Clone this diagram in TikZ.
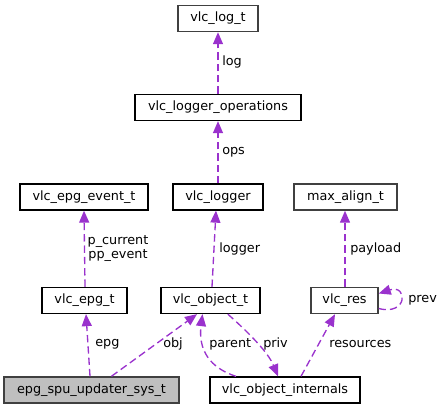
\documentclass[tikz,border=0pt]{standalone}
\usepackage{fontspec}
\setmainfont{DejaVu Sans}
\usetikzlibrary{arrows.meta,calc}
\definecolor{edgec}{HTML}{9A32CD}
\definecolor{bord}{HTML}{404040}
\begin{document}
\begin{tikzpicture}[x=0.75pt,y=-0.75pt,
  box/.style={draw=black,fill=white,line width=1pt,inner sep=0pt,minimum height=19.5pt,font=\fontsize{9.6}{11}\selectfont},
  gbox/.style={box,draw=bord,line width=1.1pt},
  mainbox/.style={box,draw=bord,line width=1.1pt,fill=black!25},
  rel/.style={draw=edgec,line width=1pt,dash pattern=on 5.5pt off 3pt,-{Triangle[length=9pt,width=7.5pt]}},
  lbl/.style={anchor=west,inner sep=0pt,font=\fontsize{9.6}{11}\selectfont}]
\useasboundingbox (0,0) rectangle (443,409);
% nodes
\node[gbox,minimum width=60pt]  (log)  at (218,18.5) {vlc\_log\_t};
\node[box,minimum width=124.5pt] (ops) at (218,107.5) {vlc\_logger\_operations};
\node[box,minimum width=96pt] (evt) at (84,197) {vlc\_epg\_event\_t};
\node[box,minimum width=67.5pt] (lgr) at (218,197) {vlc\_logger};
\node[gbox,minimum width=77.25pt] (max) at (345.5,197) {max\_align\_t};
\node[box,minimum width=63.75pt] (epg) at (84.5,300.5) {vlc\_epg\_t};
\node[box,minimum width=74.25pt] (obj) at (210.5,300.5) {vlc\_object\_t};
\node[gbox,minimum width=50.25pt] (res) at (344.5,300.5) {vlc\_res};
\node[mainbox,minimum width=131.25pt] (sys) at (91.5,390) {epg\_spu\_updater\_sys\_t};
\node[box,minimum width=112.5pt] (int) at (285,390) {vlc\_object\_internals};
% edges
\draw[rel] (ops.north) -- (log.south);
\node[lbl] (llog) at (222,62) {log};
\draw[rel] (lgr.north) -- (ops.south);
\node[lbl] (lops) at (222,152) {ops};
\draw[rel] ([xshift=0.375pt]epg.north) -- (evt.south);
\node[font=\fontsize{9.6}{11}\selectfont,align=center,inner sep=0pt] (lpc) at (118,248.5) {p\_current\\pp\_event};
\draw[rel] ([xshift=1.125pt]obj.north) -- ([xshift=-1.5pt]lgr.south);
\node[lbl] (llgr) at (219,249) {logger};
\draw[rel] ([xshift=0.375pt]res.north) -- ([xshift=-0.375pt]max.south);
\node[lbl] (lpay) at (350,249) {payload};
\draw[rel] ([xshift=-1.125pt]sys.north) -- ([xshift=1.125pt]epg.south);
\node[lbl] (lepg) at (95,344) {epg};
\draw[rel] ([xshift=15pt]sys.north) -- ([xshift=-10.125pt]obj.south);
\node[lbl] (lobj) at (163,344) {obj};
\draw[rel] ([xshift=-36.75pt]int.north) .. controls (210,368) and (198,350) .. ([xshift=-6pt]obj.south);
\node[lbl] (lpar) at (209,344) {parent};
\draw[rel] ([xshift=13pt]obj.south) .. controls (248,332) and (268,352) .. ([xshift=-5.25pt]int.north);
\node[lbl] (lpriv) at (263,344) {priv};
\draw[rel] ([xshift=12pt]int.north) -- ([xshift=-7.125pt]res.south);
\node[lbl] (lres) at (329,344) {resources};
\draw[rel] ([yshift=-6pt]res.east) .. controls (408,316) and (408,284) .. ([yshift=5.25pt]res.east);
\node[lbl] (lprev) at (408,300) {prev};
\end{tikzpicture}
\end{document}
